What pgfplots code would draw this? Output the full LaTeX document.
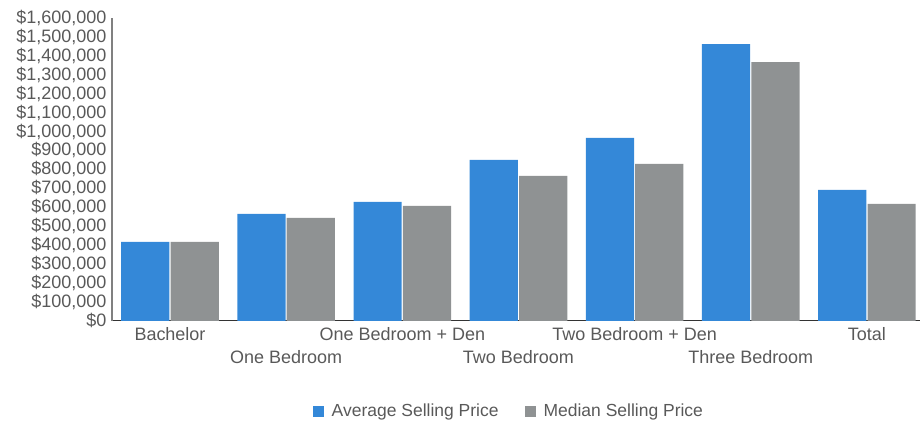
\documentclass[border=0pt]{standalone}
\usepackage{fontspec}
\setmainfont{Liberation Sans}
\usepackage{pgfplots}
\pgfplotsset{compat=1.18}
\definecolor{avgblue}{RGB}{52,136,216}
\definecolor{medgray}{RGB}{143,146,147}
\definecolor{txtgray}{RGB}{89,89,89}
\begin{document}
\begin{tikzpicture}
\begin{axis}[
  scale only axis,
  width=809pt, height=303pt,
  xmin=-0.5, xmax=6.46,
  ymin=0, ymax=1600000,
  ytick distance=100000,
  scaled y ticks=false,
  /pgf/number format/assume math mode=true,
  yticklabel={\$\pgfmathprintnumber[fixed,precision=0,1000 sep={,}]{\tick}},
  y tick label style={font=\fontsize{18}{18}\selectfont, text=txtgray, xshift=-2pt},
  axis x line=bottom, axis y line=left,
  axis line style={-},
  x axis line style={draw=black!80, line width=1.3pt},
  y axis line style={draw=black!50, line width=1.5pt},
  major tick length=0pt,
  xtick={0,2,4,6},
  xticklabels={Bachelor, One Bedroom + Den, Two Bedroom + Den, Total},
  extra x ticks={1,3,5},
  extra x tick labels={One Bedroom, Two Bedroom, Three Bedroom},
  extra x tick style={tick label style={yshift=-23pt}, grid=none},
  x tick label style={font=\fontsize{18}{18}\selectfont, text=txtgray, yshift=-3pt},
  legend columns=2,
  legend style={at={(0.491,-0.297)}, anchor=center, draw=none, fill=none,
    font=\fontsize{17.5}{17.5}\selectfont, text=txtgray,
    /tikz/every odd column/.append style={column sep=6pt},
    /tikz/every even column/.append style={column sep=24pt}},
  legend image code/.code={\fill[#1] (0pt,-6pt) rectangle (11pt,5pt);},
]
\addplot[ybar, bar width=0.415, bar shift=-0.2125, fill=avgblue, draw=none] coordinates {
  (0,417000) (1,565000) (2,628000) (3,850000) (4,966000) (5,1462000) (6,692000)};
\addlegendentry{Average Selling Price}
\addplot[ybar, bar width=0.415, bar shift=0.2125, fill=medgray, draw=none] coordinates {
  (0,417000) (1,544000) (2,607000) (3,766000) (4,829000) (5,1367000) (6,618000)};
\addlegendentry{Median Selling Price}
\end{axis}
\path[use as bounding box] (current axis.south west) ++(-112pt,-101pt) rectangle ++(921pt,422pt);
\end{tikzpicture}
\end{document}
